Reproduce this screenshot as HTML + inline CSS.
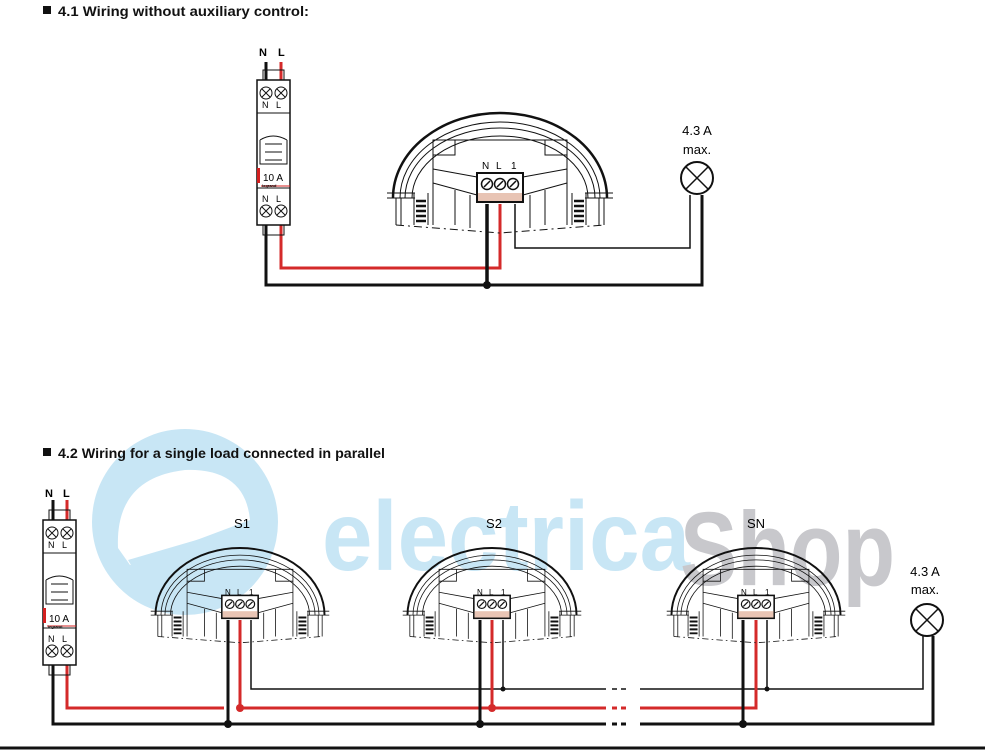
<!DOCTYPE html>
<html><head><meta charset="utf-8"><style>
body{margin:0;background:#fff;width:985px;height:750px;overflow:hidden}
svg{display:block}
text{font-family:"Liberation Sans",sans-serif}
</style></head><body>
<svg width="985" height="750" viewBox="0 0 985 750" xmlns="http://www.w3.org/2000/svg">
<defs>
<g id="det" fill="none" stroke="#111">
 <path d="M-107,85 A107,85 0 0 1 107,85" stroke-width="2.5"/>
 <path d="M-100,85 A100,76 0 0 1 100,85" stroke-width="1"/>
 <path d="M-95,85 A95,70 0 0 1 95,85" stroke-width="1"/>
 <path d="M-88,85 A88,62 0 0 1 88,85" stroke-width="1"/>
 <path d="M-113,80 H-85 M85,80 H113 M-113,85 H-85 M85,85 H113" stroke-width="1"/>
 <path d="M-67,112 V27 H67 V112" stroke-width="1"/>
 <path d="M-67,42 H-45 V27 M67,42 H45 V27" stroke-width="1"/>
 <path d="M-67,56 L-23,64 M67,56 L23,64 M-67,70 L-23,82 M67,70 L23,82" stroke-width="1"/>
 <path d="M-45,77 V112 M45,77 V112 M-30,82 V115 M30,82 V115" stroke-width="1"/>
 <path d="M-104,85 V112 M-99,85 V112 M104,85 V112 M99,85 V112" stroke-width="1"/>
 <path d="M-104,112 L0,120 L104,112" stroke-width="1" stroke-dasharray="8,4,2,4"/>
 <path d="M-86,80 V112 M-72,80 V112 M72,80 V112 M86,80 V112" stroke-width="1"/>
 <path d="M-84,88 h10 M-84,93 h10 M-84,98 h10 M-84,103 h10 M-84,108 h10 M74,88 h10 M74,93 h10 M74,98 h10 M74,103 h10 M74,108 h10" stroke-width="2.5"/>
 <rect x="-23" y="60" width="46" height="29" fill="#fff" stroke-width="2"/>
 <rect x="-22" y="80" width="44" height="8" fill="#e8c4b4" stroke="none"/>
 <circle cx="-13" cy="71" r="5.5" stroke-width="1.5"/><circle cx="0" cy="71" r="5.5" stroke-width="1.5"/><circle cx="13" cy="71" r="5.5" stroke-width="1.5"/>
 <path d="M-16,74 L-10,68 M-3,74 L3,68 M10,74 L16,68" stroke-width="1.5"/>
</g>
<g id="brk" fill="none" stroke="#111">
 <rect x="6" y="-10" width="21" height="10" stroke-width="1"/>
 <rect x="6" y="145" width="21" height="10" stroke-width="1"/>
 <rect x="0" y="0" width="33" height="145" fill="#fff" stroke-width="1.5"/>
 <circle cx="9" cy="13" r="6"/><circle cx="24" cy="13" r="6"/>
 <path d="M5,9 l8,8 M13,9 l-8,8 M20,9 l8,8 M28,9 l-8,8"/>
 <circle cx="9" cy="131" r="6"/><circle cx="24" cy="131" r="6"/>
 <path d="M5,127 l8,8 M13,127 l-8,8 M20,127 l8,8 M28,127 l-8,8"/>
 <path d="M0,33 H33 M0,108 H33 M3,60 Q16,52 30,60 M3,60 V84 H30 V60 M8,64 H25 M8,72 H25 M8,80 H25" stroke-width="1"/>
 <rect x="0" y="88" width="3" height="15" fill="#d42020" stroke="none"/>
 <path d="M4,106 H33" stroke="#d42020" stroke-width="1"/>
</g>
<g id="lamp" fill="#fff" stroke="#111" stroke-width="2">
 <circle r="16"/><path d="M-11,-11 L11,11 M11,-11 L-11,11" stroke-width="1.5"/>
</g>
</defs>

<!-- watermark -->
<g>
 <circle cx="185" cy="522" r="93" fill="#c8e6f5"/>
 <path d="M118,548 Q115,478 185,470 Q245,468 250,520 L130,565 Z" fill="#fff"/>
 <path d="M128,560 L265,520 Q268,545 250,575 L140,580 Z" fill="#c8e6f5"/>
 <text x="322" y="570" font-size="98" font-weight="bold" fill="#c8e6f5" textLength="368" lengthAdjust="spacingAndGlyphs">electrica</text>
 <text x="680" y="585" font-size="105" font-weight="bold" fill="#c8c8cc" textLength="215" lengthAdjust="spacingAndGlyphs">Shop</text>
</g>

<!-- headings -->
<rect x="43" y="6" width="8" height="8" fill="#111"/>
<text x="58" y="16" font-size="14" font-weight="bold" fill="#111" textLength="251" lengthAdjust="spacingAndGlyphs">4.1  Wiring without auxiliary control:</text>
<rect x="43" y="448" width="8" height="8" fill="#111"/>
<text x="58" y="458" font-size="14" font-weight="bold" fill="#111" textLength="327" lengthAdjust="spacingAndGlyphs">4.2  Wiring for a single load connected in parallel</text>

<!-- SECTION 1 -->
<text x="259" y="56" font-size="11" font-weight="bold">N</text>
<text x="278" y="56" font-size="11" font-weight="bold">L</text>
<path d="M266,62 V285 H702 V195" fill="none" stroke="#111" stroke-width="3"/>
<path d="M281,62 V268 H500 V204" fill="none" stroke="#d42a2a" stroke-width="3"/>
<path d="M487,204 V285" stroke="#111" stroke-width="3.5"/>
<path d="M515,204 V248 H690 V195" fill="none" stroke="#111" stroke-width="1.5"/>
<circle cx="487" cy="285" r="4" fill="#111"/>
<use href="#brk" x="257" y="80"/>
<text x="262" y="108" font-size="9">N</text><text x="276" y="108" font-size="9">L</text>
<text x="263" y="181" font-size="10">10 A</text>
<text x="262" y="187" font-size="4" font-weight="bold">legrand</text>
<text x="262" y="202" font-size="9">N</text><text x="276" y="202" font-size="9">L</text>
<use href="#det" x="500" y="113"/>
<text x="482" y="169" font-size="10">N</text><text x="496" y="169" font-size="10">L</text><text x="511" y="169" font-size="10">1</text>
<use href="#lamp" x="697" y="178"/>
<text x="697" y="135" font-size="13" text-anchor="middle">4.3 A</text>
<text x="697" y="154" font-size="13" text-anchor="middle">max.</text>

<!-- SECTION 2 -->
<text x="45" y="497" font-size="11" font-weight="bold">N</text>
<text x="63" y="497" font-size="11" font-weight="bold">L</text>
<path d="M251,620 V689 H606 M612,689 h5 M621,689 h5 M640,689 H923 V636 M503,620 V689 M767,620 V689" fill="none" stroke="#111" stroke-width="1.5"/>
<circle cx="503" cy="689" r="2.5" fill="#111"/><circle cx="767" cy="689" r="2.5" fill="#111"/>
<path d="M67,500 V708 H224 M240,620 V708 H606 M612,708 h5 M621,708 h5 M640,708 H756 V620 M492,620 V708" fill="none" stroke="#d42a2a" stroke-width="3"/>
<circle cx="240" cy="708" r="4" fill="#d42a2a"/><circle cx="492" cy="708" r="4" fill="#d42a2a"/>
<path d="M53,500 V724 H606 M612,724 h5 M621,724 h5 M640,724 H933 V636 M228,620 V724 M480,620 V724 M743,620 V724" fill="none" stroke="#111" stroke-width="3"/>
<circle cx="228" cy="724" r="4" fill="#111"/><circle cx="480" cy="724" r="4" fill="#111"/><circle cx="743" cy="724" r="4" fill="#111"/>
<use href="#brk" x="43" y="520"/>
<text x="48" y="548" font-size="9">N</text><text x="62" y="548" font-size="9">L</text>
<text x="49" y="622" font-size="10">10 A</text>
<text x="48" y="628" font-size="4" font-weight="bold">legrand</text>
<text x="48" y="642" font-size="9">N</text><text x="62" y="642" font-size="9">L</text>
<use href="#det" transform="translate(240,548) scale(0.79)"/>
<use href="#det" transform="translate(492,548) scale(0.79)"/>
<use href="#det" transform="translate(756,548) scale(0.79)"/>
<g font-size="8">
<text x="225" y="595">N</text><text x="237" y="595">L</text><text x="249" y="595">1</text>
<text x="477" y="595">N</text><text x="489" y="595">L</text><text x="501" y="595">1</text>
<text x="741" y="595">N</text><text x="753" y="595">L</text><text x="765" y="595">1</text>
</g>
<text x="242" y="528" font-size="13" text-anchor="middle">S1</text>
<text x="494" y="528" font-size="13" text-anchor="middle">S2</text>
<text x="756" y="528" font-size="13" text-anchor="middle">SN</text>
<use href="#lamp" x="927" y="620"/>
<text x="925" y="576" font-size="13" text-anchor="middle">4.3 A</text>
<text x="925" y="594" font-size="13" text-anchor="middle">max.</text>
<path d="M0,748 H985" stroke="#111" stroke-width="3"/>
</svg>
</body></html>
